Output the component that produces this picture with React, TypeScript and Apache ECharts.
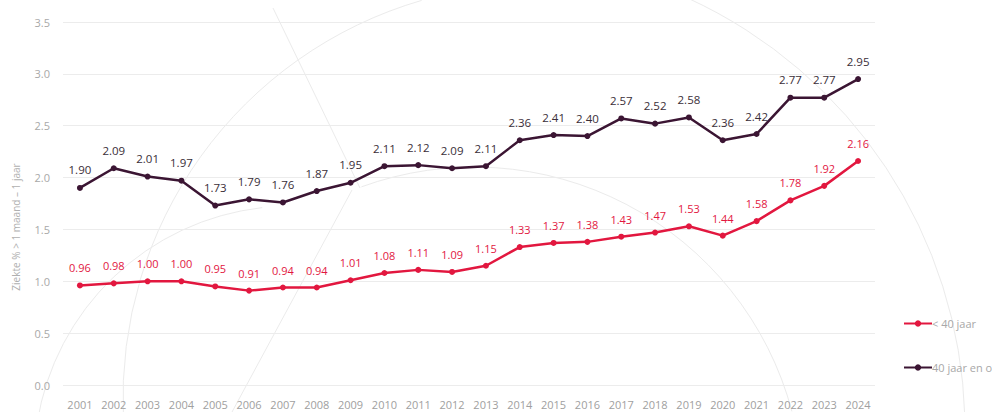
import React, { useEffect, useRef } from "react";
import * as echarts from "echarts";

const years = ["2001","2002","2003","2004","2005","2006","2007","2008","2009","2010","2011","2012","2013","2014","2015","2016","2017","2018","2019","2020","2021","2022","2023","2024"];
const under40 = [0.96,0.98,1.00,1.00,0.95,0.91,0.94,0.94,1.01,1.08,1.11,1.09,1.15,1.33,1.37,1.38,1.43,1.47,1.53,1.44,1.58,1.78,1.92,2.16];
const over40 = [1.90,2.09,2.01,1.97,1.73,1.79,1.76,1.87,1.95,2.11,2.12,2.09,2.11,2.36,2.41,2.40,2.57,2.52,2.58,2.36,2.42,2.77,2.77,2.95];
const seriesNames = ["< 40 jaar", "40 jaar en ouder"];
const yTitle = "Ziekte % > 1 maand – 1 jaar";

const RED = "#e2173f";
const DARK = "#3b1533";
const FONT = "'Open Sans', sans-serif";
const DECO = "#ebebeb";

export default function App() {
  const ref = useRef<HTMLDivElement>(null);
  useEffect(() => {
    if (!ref.current) return;
    const chart = echarts.init(ref.current, undefined, { renderer: "svg" });
    const decoArc = (cx: number, cy: number, r: number, s: number, e: number) => ({
      type: "arc",
      z: -10,
      silent: true,
      shape: { cx, cy, r, startAngle: s, endAngle: e, clockwise: true },
      style: { stroke: DECO, lineWidth: 1, fill: "none" },
    });
    const decoLine = (x1: number, y1: number, x2: number, y2: number) => ({
      type: "line",
      z: -10,
      silent: true,
      shape: { x1, y1, x2, y2 },
      style: { stroke: DECO, lineWidth: 1 },
    });
    chart.setOption({
      animation: false,
      backgroundColor: "#ffffff",
      textStyle: { fontFamily: FONT },
      grid: { left: 63, right: 117, top: 22, bottom: 27, containLabel: false },
      legend: {
        orient: "vertical",
        left: 898,
        top: 313,
        itemGap: 33,
        itemWidth: 28,
        itemHeight: 8,
        textStyle: { color: "#a8a8a8", fontSize: 11, fontFamily: FONT, padding: [0, 0, 0, -5] },
        data: seriesNames,
      },
      graphic: [
        decoArc(537, 398, 414, 3.1, 4.43),
        decoArc(291, 463, 257, 3.3, 4.6),
        decoArc(490, 430, 475, -1.14, -0.03),
        decoArc(474, 496, 329, -1.92, -0.26),
        decoLine(273, 8, 360, 188),
        decoLine(352, 190, 232, 412),
        {
          type: "text",
          x: 16,
          y: 227,
          rotation: Math.PI / 2,
          style: {
            text: yTitle,
            fill: "#b0b0b0",
            fontSize: 10,
            fontFamily: FONT,
            align: "center",
            verticalAlign: "middle",
          },
        },
      ],
      xAxis: {
        type: "category",
        data: years,
        boundaryGap: true,
        axisLine: { show: false },
        axisTick: { show: false },
        axisLabel: { color: "#a0a0a0", fontSize: 11, fontFamily: FONT, margin: 14, interval: 0 },
      },
      yAxis: {
        type: "value",
        min: 0,
        max: 3.5,
        interval: 0.5,
        axisLine: { show: false },
        axisTick: { show: false },
        splitLine: { lineStyle: { color: "#ececec", width: 1 } },
        axisLabel: {
          color: "#a8a8a8",
          fontSize: 11,
          fontFamily: FONT,
          margin: 13,
          formatter: (v: number) => v.toFixed(1),
        },
      },
      series: [
        {
          name: seriesNames[0],
          type: "line",
          data: under40,
          color: RED,
          lineStyle: { width: 2.5, color: RED },
          symbol: "circle",
          symbolSize: 6,
          itemStyle: { color: RED },
          label: {
            show: true,
            position: "top",
            distance: 9,
            color: RED,
            fontSize: 11,
            fontFamily: FONT,
            formatter: (p: any) => p.value.toFixed(2),
          },
        },
        {
          name: seriesNames[1],
          type: "line",
          data: over40,
          color: DARK,
          lineStyle: { width: 2.5, color: DARK },
          symbol: "circle",
          symbolSize: 6,
          itemStyle: { color: DARK },
          label: {
            show: true,
            position: "top",
            distance: 9,
            color: "#3a2e38",
            fontSize: 11.5,
            fontFamily: FONT,
            formatter: (p: any) => p.value.toFixed(2),
          },
        },
      ],
    });
    return () => chart.dispose();
  }, []);
  return <div ref={ref} style={{ width: 992, height: 412, position: "absolute", left: 0, top: 0 }} />;
}
